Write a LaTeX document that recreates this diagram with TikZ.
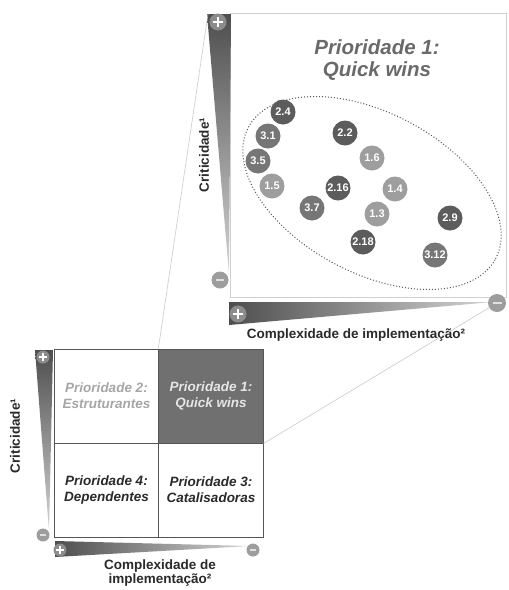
\documentclass[tikz,border=0pt]{standalone}
\usepackage{fontspec}
\setmainfont{Liberation Sans}
\usetikzlibrary{calc}

\definecolor{inkdark}{HTML}{2A2A2A}
\definecolor{titlegray}{HTML}{6A6A6A}
\definecolor{softgray}{HTML}{A6A6A6}
\definecolor{cellfill}{HTML}{707070}
\definecolor{celltext}{HTML}{E6E6E6}
\definecolor{gridline}{HTML}{555555}
\definecolor{framegray}{HTML}{D0D0D0}
\definecolor{linkgray}{HTML}{CBCBCB}
\definecolor{wedgedark}{HTML}{4E4E4E}
\definecolor{wedgelight}{HTML}{D4D4D4}
\definecolor{markgray}{HTML}{8C8C8C}
\definecolor{prioA}{HTML}{9E9E9E}
\definecolor{prioB}{HTML}{5C5C5C}
\definecolor{prioC}{HTML}{767676}

\tikzset{
  axislabel/.style={font=\fontsize{13.5}{15}\selectfont\bfseries, text=inkdark, align=center, inner sep=0pt},
  quadrant/.style={draw=gridline, line width=0.8pt, minimum width=104.5pt, minimum height=94pt,
    inner sep=0pt, align=center, font=\fontsize{13.5}{16}\selectfont\bfseries\itshape},
  bubble/.style={circle, fill=#1, minimum size=25pt, inner sep=0pt, text=white,
    font=\fontsize{11}{11}\selectfont\bfseries},
  plusmark/.style={circle, fill=markgray, minimum size=#1, inner sep=0pt,
    path picture={
      \draw[white, line width=0.16*#1]
        ($(path picture bounding box.center)!0.55!(path picture bounding box.west)$) --
        ($(path picture bounding box.center)!0.55!(path picture bounding box.east)$)
        ($(path picture bounding box.center)!0.55!(path picture bounding box.north)$) --
        ($(path picture bounding box.center)!0.55!(path picture bounding box.south)$);}},
  minusmark/.style={circle, fill=markgray!85, minimum size=#1, inner sep=0pt,
    path picture={
      \draw[white!88!black, line width=0.16*#1]
        ($(path picture bounding box.center)!0.5!(path picture bounding box.west)$) --
        ($(path picture bounding box.center)!0.5!(path picture bounding box.east)$);}},
  link/.style={draw=linkgray, line width=0.6pt},
}

\begin{document}
\begin{tikzpicture}[x=1pt, y=-1pt]
\useasboundingbox[fill=white] (0,0) rectangle (509,590);

% ---------- lower matrix ----------
\node[quadrant, text=softgray] (q2) at (106.5,396) {Prioridade 2:\\Estruturantes};
\node[quadrant, fill=cellfill, text=celltext] (q1) at (211,396) {Prioridade 1:\\Quick wins};
\node[quadrant, text=inkdark] (q4) at (106.5,490) {Prioridade 4:\\Dependentes};
\node[quadrant, text=inkdark] (q3) at (211,490) {Prioridade 3:\\Catalisadoras};

% lower axes (tapered wedges)
\shade[top color=wedgedark, bottom color=wedgelight] (35,350) -- (53,350) -- (49,531) -- cycle;
\shade[left color=wedgedark, right color=wedgelight] (55,541) -- (55,557) -- (250,546) -- cycle;
\node[plusmark=13pt] (lp1) at (43,357) {};
\node[minusmark=13pt] (lm1) at (43,535) {};
\node[plusmark=13pt] (lp2) at (60,550) {};
\node[minusmark=13pt] (lm2) at (253,550) {};

\node[axislabel, rotate=90] (lcrit) at (15,436) {Criticidade¹};
\node[axislabel, align=center, font=\fontsize{13.5}{14}\selectfont\bfseries] (lcomp) at (160,573)
  {Complexidade de\\implementação²};

% ---------- enlarged quadrant ----------
\node[draw=framegray, line width=0.6pt, minimum width=276pt, minimum height=284pt, inner sep=0pt]
  (panel) at (368,155) {};

\shade[top color=wedgedark, bottom color=wedgelight] (207,14) -- (231,14) -- (229,274) -- cycle;
\shade[left color=wedgedark, right color=wedgelight] (229,302) -- (229,325) -- (493,302) -- cycle;
\node[plusmark=17pt] (up1) at (218,22) {};
\node[minusmark=17pt] (um1) at (220,280) {};
\node[plusmark=17pt] (up2) at (238,314) {};
\node[minusmark=18pt] (um2) at (497,303) {};
\coordinate (wtop) at (208,14);

\node[axislabel, rotate=90] (ucrit) at (204,155) {Criticidade¹};
\node[axislabel] (ucomp) at (356,335) {Complexidade de implementação²};

\node[align=center, text=titlegray, inner sep=0pt,
      font=\fontsize{20.5}{22}\selectfont\bfseries\itshape] (title) at (377,60)
  {Prioridade 1:\\Quick wins};

% cluster outline
\draw[gridline, line width=1pt, dotted] (372,193) ellipse [x radius=140pt, y radius=80pt, rotate=-28];

% initiatives
\node[bubble=prioB] (b24)  at (283,112) {2.4};
\node[bubble=prioC] (b31)  at (268,136) {3.1};
\node[bubble=prioC] (b35)  at (258,161) {3.5};
\node[bubble=prioA] (b15)  at (272,186) {1.5};
\node[bubble=prioB] (b22)  at (345,133) {2.2};
\node[bubble=prioA] (b16)  at (372,158) {1.6};
\node[bubble=prioB] (b216) at (338,188) {2.16};
\node[bubble=prioA] (b14)  at (395,189) {1.4};
\node[bubble=prioC] (b37)  at (312,208) {3.7};
\node[bubble=prioA] (b13)  at (377,214) {1.3};
\node[bubble=prioB] (b218) at (363,242) {2.18};
\node[bubble=prioB] (b29)  at (450,218) {2.9};
\node[bubble=prioC] (b312) at (435,255) {3.12};

% zoom guide lines from the highlighted cell
\draw[link] (q1.north west) -- (wtop);
\draw[link] (q1.south east) -- (um2);
\end{tikzpicture}
\end{document}
